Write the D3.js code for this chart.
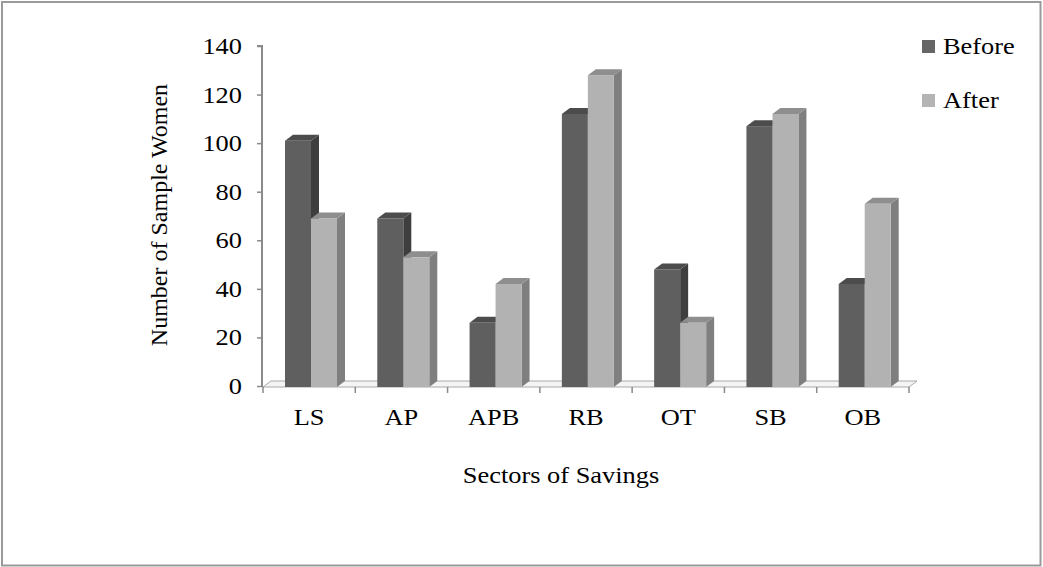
<!DOCTYPE html>
<html>
<head>
<meta charset="utf-8">
<script src="https://cdn.jsdelivr.net/npm/d3@7"></script>
<style>
  body { margin: 0; background: #fff; }
  svg { display: block; }
  text { font-family: "Liberation Serif", "Times New Roman", serif; fill: #000; }
</style>
</head>
<body>
<svg id="chart" width="1043" height="567"></svg>
<script>
const categories = ["LS", "AP", "APB", "RB", "OT", "SB", "OB"];
const seriesNames = ["Before", "After"];
const beforeValues = [101, 69, 26, 112, 48, 107, 42];
const afterValues = [69, 53, 42, 128, 26, 112, 75];
const yTicks = [0, 20, 40, 60, 80, 100, 120, 140];

const svg = d3.select("#chart");
const W = 1043, H = 567;
const FS = 24, SX = 1.1;

// outer border
svg.append("rect").attr("x", 2).attr("y", 2).attr("width", W - 4.5).attr("height", H - 3.5)
  .attr("fill", "#fff").attr("stroke", "#9a9a9a").attr("stroke-width", 2);

const x0 = 263, x1 = 909;
const yScale = d3.scaleLinear().domain([0, 140]).range([386, 46]);
const xBand = d3.scaleBand().domain(categories).range([x0, x1]).padding(0);
const xSeries = d3.scaleBand().domain(seriesNames).range([22, 22 + 52]).padding(0);

const dx = 8, dy = -6;
const floorY = 387;

// floor
svg.append("polygon")
  .attr("points", [[x0, floorY], [x1, floorY], [x1 + dx, floorY + dy], [x0 + dx, floorY + dy]].map(p => p.join(",")).join(" "))
  .attr("fill", "#f4f4f4").attr("stroke", "#a8a8a8").attr("stroke-width", 1);

// y axis
const yAxis = d3.axisLeft(yScale).tickValues(yTicks).tickSize(5).tickFormat(() => "");
const gy = svg.append("g").attr("transform", `translate(${x0 - 1},0)`).call(yAxis);
gy.select(".domain").attr("stroke", "#8a8a8a").attr("stroke-width", 2)
  .attr("d", `M-5,${yScale(140)}H0V${floorY}`);
gy.selectAll(".tick line").attr("stroke", "#8a8a8a").attr("stroke-width", 1.5);

// y tick labels (slightly wide type as in reference)
svg.append("g").selectAll("text").data(yTicks).join("text")
  .attr("transform", d => `translate(242,${yScale(d) + 8}) scale(${SX},1)`)
  .attr("text-anchor", "end")
  .style("font-size", FS + "px")
  .text(d => d);

// x axis ticks at boundaries
const boundaries = categories.map(c => xBand(c)).concat([x1]);
svg.append("g").selectAll("line").data(boundaries).join("line")
  .attr("x1", d => d).attr("x2", d => d).attr("y1", floorY).attr("y2", floorY + 6)
  .attr("stroke", "#8a8a8a").attr("stroke-width", 1.5);

// x labels
svg.append("g").selectAll("text").data(categories).join("text")
  .attr("transform", d => `translate(${xBand(d) + xBand.bandwidth() / 2},425) scale(${SX},1)`)
  .attr("text-anchor", "middle")
  .style("font-size", FS + "px")
  .text(d => d);

// bars
const styles = {
  Before: { front: "#5f5f5f", side: "#3e3e3e", top: "#4c4c4c" },
  After: { front: "#b2b2b2", side: "#7f7f7f", top: "#8e8e8e" }
};
const data = [];
categories.forEach((c, i) => {
  data.push({ cat: c, series: "Before", value: beforeValues[i] });
  data.push({ cat: c, series: "After", value: afterValues[i] });
});
const bars = svg.append("g").selectAll("g").data(data).join("g");
bars.each(function(d) {
  const g = d3.select(this);
  const bx = xBand(d.cat) + xSeries(d.series);
  const bw = xSeries.bandwidth();
  const top = yScale(d.value);
  const bottom = floorY;
  const st = styles[d.series];
  g.append("polygon")
    .attr("points", [[bx + bw, top], [bx + bw + dx, top + dy], [bx + bw + dx, bottom + dy], [bx + bw, bottom]].map(p => p.join(",")).join(" "))
    .attr("fill", st.side);
  g.append("polygon")
    .attr("points", [[bx, top], [bx + dx, top + dy], [bx + bw + dx, top + dy], [bx + bw, top]].map(p => p.join(",")).join(" "))
    .attr("fill", st.top);
  g.append("rect").attr("x", bx).attr("y", top).attr("width", bw).attr("height", bottom - top)
    .attr("fill", st.front);
});

// axis titles
svg.append("text")
  .attr("transform", `translate(167,215) rotate(-90)`)
  .attr("text-anchor", "middle")
  .style("font-size", FS + "px")
  .text("Number of Sample Women");
svg.append("text")
  .attr("transform", `translate(561,483) scale(${SX},1)`)
  .attr("text-anchor", "middle")
  .style("font-size", FS + "px")
  .text("Sectors of Savings");

// legend
const legend = svg.append("g").selectAll("g").data(seriesNames).join("g")
  .attr("transform", (d, i) => `translate(922,${40 + i * 54})`);
legend.append("rect").attr("width", 13).attr("height", 13)
  .attr("fill", d => d === "Before" ? "#666666" : "#b4b4b4");
legend.append("text")
  .attr("transform", `translate(21,14) scale(${SX},1)`)
  .style("font-size", FS + "px").text(d => d);
</script>
</body>
</html>
